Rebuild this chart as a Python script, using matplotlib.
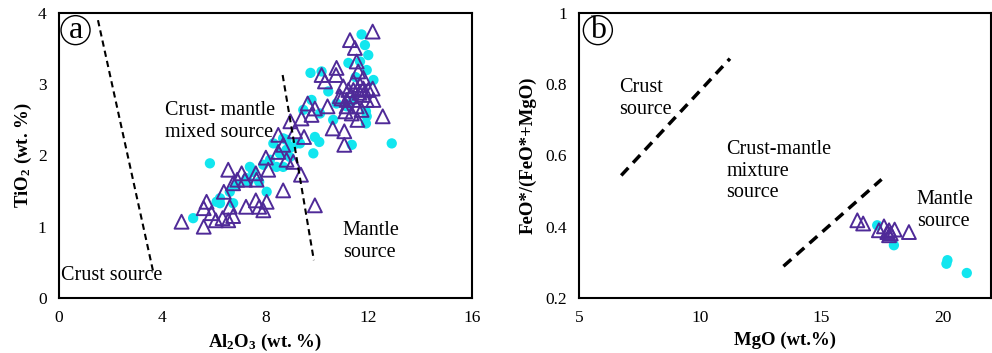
import matplotlib.pyplot as plt
from matplotlib.ticker import FixedLocator

plt.rcParams['font.family'] = ['Liberation Serif', 'DejaVu Serif']
plt.rcParams['mathtext.fontset'] = 'custom'
plt.rcParams['mathtext.rm'] = 'Liberation Serif:bold'
plt.rcParams['mathtext.it'] = 'Liberation Serif:bold'
plt.rcParams['mathtext.bf'] = 'Liberation Serif:bold'

PURPLE = '#4f2a98'
CYAN = '#12e6ef'

# (a) Al2O3 vs TiO2 -- triangles
tri_al2o3 = [4.75, 5.61, 5.61, 5.72, 5.91, 6.08, 6.34, 6.56, 6.75, 6.39, 6.62, 6.56, 6.75,
             6.91, 7.08, 7.21, 7.25, 7.63, 7.66, 7.63, 7.76, 7.92, 8.05, 8.02, 8.11, 8.50,
             8.50, 8.69, 8.69, 8.82, 8.97, 9.15, 9.08, 9.38, 9.50, 9.40, 9.64, 9.79, 9.92,
             9.92, 10.31, 10.18, 10.41, 10.61, 10.76, 10.74, 11.06, 11.06, 10.89, 11.02,
             11.15, 11.28, 11.47, 11.54, 11.60, 11.41, 11.67, 11.80, 11.28, 11.41, 11.54,
             11.35, 11.57, 11.80, 11.99, 12.16, 12.16, 12.19, 12.55, 11.93, 11.22, 11.73,
             11.41, 11.80, 11.15, 10.95, 11.10, 11.65]
tri_tio2 = [1.07, 1.00, 1.26, 1.35, 1.19, 1.09, 1.12, 1.09, 1.15, 1.49, 1.28, 1.80, 1.61,
            1.66, 1.75, 1.66, 1.28, 1.75, 1.66, 1.37, 1.28, 1.23, 1.35, 1.97, 1.80, 2.05,
            2.29, 2.15, 1.51, 1.94, 2.48, 2.34, 1.91, 1.73, 2.26, 2.52, 2.73, 2.57, 1.30,
            2.66, 3.04, 3.13, 2.69, 2.38, 3.23, 3.13, 2.34, 2.15, 2.83, 2.97, 2.69, 3.62,
            3.51, 3.32, 3.18, 3.04, 2.99, 3.09, 2.83, 2.78, 2.69, 2.59, 2.50, 2.85, 2.92,
            3.74, 2.94, 2.78, 2.55, 2.78, 2.92, 2.64, 2.92, 2.94, 2.78, 2.80, 2.62, 2.88]

# (a) Al2O3 vs TiO2 -- circles
dot_al2o3 = [5.20, 5.85, 6.11, 6.24, 6.75, 7.34, 7.40, 7.76, 8.05, 8.31, 8.43, 8.69, 8.82,
             9.02, 9.21, 9.34, 9.47, 9.79, 9.86, 9.92, 10.09, 10.12, 9.75, 10.18, 10.44,
             10.63, 11.22, 11.35, 11.41, 11.67, 11.73, 11.86, 11.99, 11.93, 11.93, 11.90,
             12.19, 12.90, 11.15, 10.76, 6.24, 6.62, 6.88, 7.27, 7.53, 7.92, 8.18, 8.56,
             8.82, 8.95, 8.69, 11.50, 11.90]
dot_tio2 = [1.12, 1.89, 1.35, 1.33, 1.33, 1.63, 1.84, 1.63, 1.49, 2.17, 1.84, 1.84, 2.22,
            2.12, 2.17, 2.17, 2.64, 2.78, 2.03, 2.26, 2.19, 2.59, 3.16, 3.18, 2.90, 2.50,
            3.30, 2.15, 2.78, 3.32, 3.70, 3.55, 3.41, 3.20, 2.55, 2.45, 3.06, 2.17, 2.69,
            2.73, 1.40, 1.49, 1.59, 1.68, 1.77, 1.87, 1.94, 2.03, 2.08, 1.98, 2.24, 3.10,
            2.62]

# (a) field boundaries
bound1_x = [1.51, 3.65]
bound1_y = [3.90, 0.37]
bound2_x = [8.67, 9.88]
bound2_y = [3.13, 0.53]

# (b) MgO vs FeO*/(FeO*+MgO)
tri_mgo = [16.48, 16.72, 17.37, 17.58, 17.79, 17.86, 18.02, 17.79, 18.61, 17.72]
tri_ratio = [0.418, 0.409, 0.390, 0.401, 0.390, 0.381, 0.392, 0.376, 0.385, 0.385]
dot_mgo = [17.30, 17.99, 20.20, 20.16, 21.00]
dot_ratio = [0.404, 0.348, 0.306, 0.296, 0.270]

bound3_x = [6.73, 11.22]
bound3_y = [0.544, 0.872]
bound4_x = [13.43, 17.48]
bound4_y = [0.289, 0.533]

fig = plt.figure(figsize=(9.92, 3.53), dpi=100)
ax1 = fig.add_axes([0.0595, 0.156, 0.416, 0.807])
ax2 = fig.add_axes([0.584, 0.156, 0.415, 0.807])

tri_kw = dict(marker='^', s=100, facecolors='none', edgecolors=PURPLE, linewidths=1.4, zorder=3)
dot_kw = dict(marker='o', s=55, color=CYAN, edgecolors='none', zorder=2)
lbl_kw = dict(fontsize=14.5, va='center', ha='left', linespacing=1.2)

ax1.scatter(dot_al2o3, dot_tio2, **dot_kw)
ax1.scatter(tri_al2o3, tri_tio2, **tri_kw)
ax1.plot(bound1_x, bound1_y, ls=(0, (3, 2)), color='black', lw=1.5, zorder=4)
ax1.plot(bound2_x, bound2_y, ls=(0, (3, 2)), color='black', lw=1.5, zorder=4)
ax1.set_xlim(0, 16)
ax1.set_ylim(0, 4)
ax1.xaxis.set_major_locator(FixedLocator([0, 4, 8, 12, 16]))
ax1.yaxis.set_major_locator(FixedLocator([0, 1, 2, 3, 4]))
ax1.set_xlabel('Al$_2$O$_3$ (wt. %)', fontsize=13.5, fontweight='bold', labelpad=4)
ax1.set_ylabel('TiO$_2$ (wt. %)', fontsize=13.5, fontweight='bold', labelpad=3)
ax1.text(0.09, 0.32, 'Crust source', zorder=5, **lbl_kw)
ax1.text(4.1, 2.48, 'Crust- mantle\nmixed source', zorder=5, **lbl_kw)
ax1.text(11.0, 0.79, 'Mantle\nsource', zorder=5, **lbl_kw)
ax1.text(0.04, 0.94, 'a', transform=ax1.transAxes, fontsize=23, ha='center', va='center',
         bbox=dict(boxstyle='circle,pad=0.0', fc='white', ec='black', lw=1))

ax2.plot(bound3_x, bound3_y, ls=(0, (3, 2)), color='black', lw=2.5)
ax2.plot(bound4_x, bound4_y, ls=(0, (3, 2)), color='black', lw=2.5)
ax2.scatter(dot_mgo, dot_ratio, **dot_kw)
ax2.scatter(tri_mgo, tri_ratio, **tri_kw)
ax2.set_xlim(5, 22)
ax2.set_ylim(0.2, 1.0)
ax2.xaxis.set_major_locator(FixedLocator([5, 10, 15, 20]))
ax2.yaxis.set_major_locator(FixedLocator([0.2, 0.4, 0.6, 0.8, 1.0]))
ax2.set_yticklabels(['0.2', '0.4', '0.6', '0.8', '1'])
ax2.set_xlabel('MgO (wt.%)', fontsize=13.5, fontweight='bold', labelpad=4)
ax2.set_ylabel('FeO*/(FeO*+MgO)', fontsize=13.5, fontweight='bold', labelpad=6)
ax2.text(6.66, 0.761, 'Crust\nsource', **lbl_kw)
ax2.text(11.06, 0.556, 'Crust-mantle\nmixture\nsource',
         bbox=dict(fc='white', ec='none', pad=2), **lbl_kw)
ax2.text(18.94, 0.446, 'Mantle\nsource', **lbl_kw)
ax2.text(0.045, 0.94, 'b', transform=ax2.transAxes, fontsize=23, ha='center', va='center',
         bbox=dict(boxstyle='circle,pad=0.0', fc='white', ec='black', lw=1))

for ax in (ax1, ax2):
    for sp in ax.spines.values():
        sp.set_linewidth(1.5)
    ax.tick_params(length=0, labelsize=12.5, pad=9)

fig.savefig('out.png', dpi=100)
